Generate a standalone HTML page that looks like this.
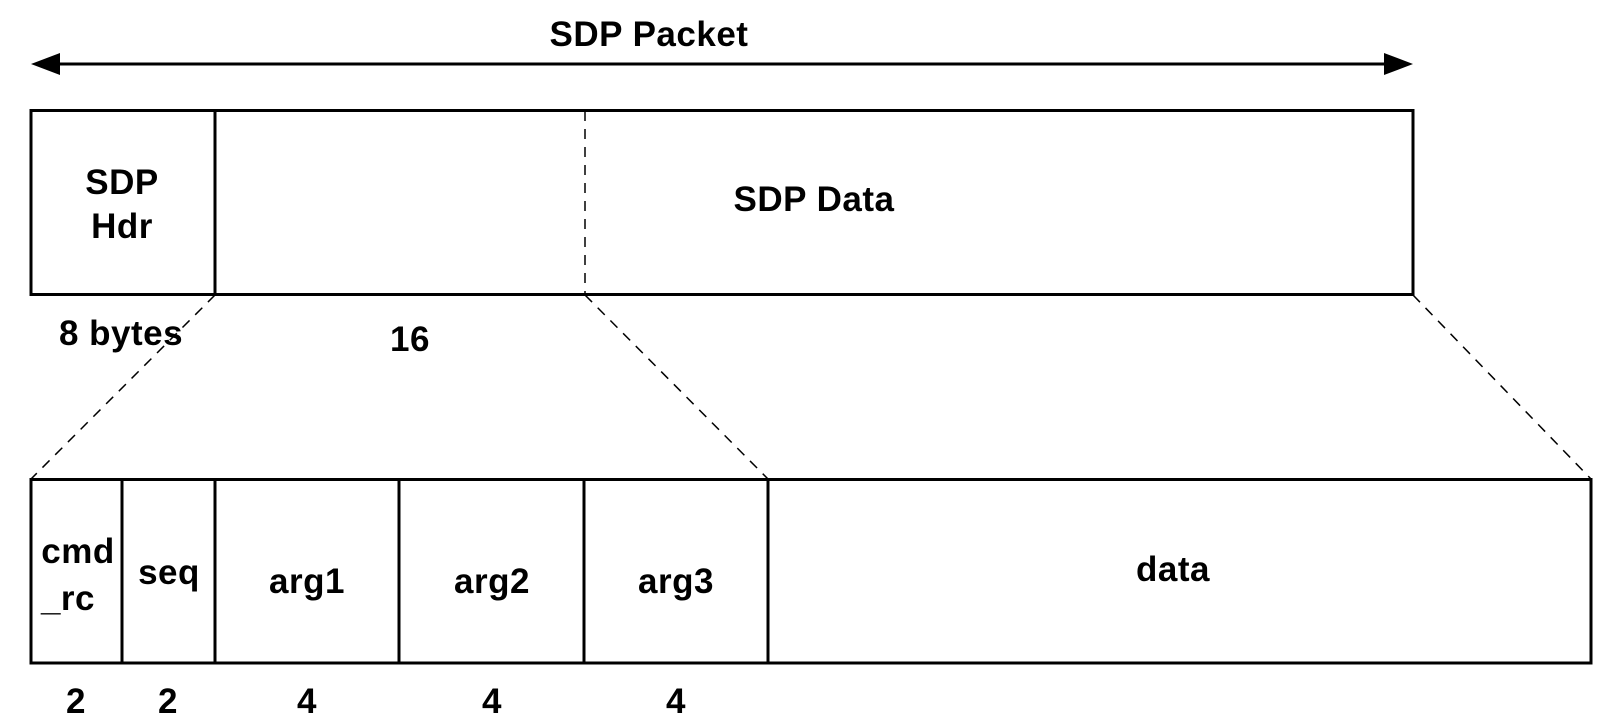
<!DOCTYPE html>
<html><head><style>
html,body{margin:0;padding:0;background:#fff;}
svg{display:block;}
text{font-family:"Liberation Sans",Arial,sans-serif;font-weight:bold;font-size:35px;letter-spacing:0.5px;fill:#000;text-anchor:middle;}
</style></head><body>
<svg width="1620" height="716" viewBox="0 0 1620 716">
<text x="649" y="46">SDP Packet</text>
<line x1="50" y1="64" x2="1395" y2="64" stroke="#000" stroke-width="3"/>
<polygon points="31,64 60,53 60,75" fill="#000"/>
<polygon points="1413,64 1384,53 1384,75" fill="#000"/>
<rect x="31" y="110.5" width="1382" height="184" fill="none" stroke="#000" stroke-width="3"/>
<line x1="215" y1="110" x2="215" y2="295" stroke="#000" stroke-width="3"/>
<line x1="585" y1="111" x2="585" y2="294" stroke="#000" stroke-width="1.5" stroke-dasharray="10,8"/>
<text x="122" y="194">SDP</text>
<text x="122" y="238">Hdr</text>
<text x="814" y="211">SDP Data</text>
<text x="121" y="345">8 bytes</text>
<text x="410" y="351">16</text>
<g stroke="#000" stroke-width="1.5" stroke-dasharray="10,8" fill="none">
<line x1="215" y1="295" x2="31" y2="479"/>
<line x1="585" y1="295" x2="768" y2="479"/>
<line x1="1413" y1="295" x2="1591" y2="479"/>
</g>
<rect x="31" y="479.5" width="1560" height="183.5" fill="none" stroke="#000" stroke-width="3"/>
<g stroke="#000" stroke-width="3">
<line x1="122" y1="479" x2="122" y2="663"/>
<line x1="215" y1="479" x2="215" y2="663"/>
<line x1="399" y1="479" x2="399" y2="663"/>
<line x1="584" y1="479" x2="584" y2="663"/>
<line x1="768" y1="479" x2="768" y2="663"/>
</g>
<text x="78" y="563">cmd</text>
<text x="68" y="610">_rc</text>
<text x="169" y="584">seq</text>
<text x="307" y="593">arg1</text>
<text x="492" y="593">arg2</text>
<text x="676" y="593">arg3</text>
<text x="1173" y="581">data</text>
<text x="76" y="713">2</text>
<text x="168" y="713">2</text>
<text x="307" y="713">4</text>
<text x="492" y="713">4</text>
<text x="676" y="713">4</text>
</svg>
</body></html>
